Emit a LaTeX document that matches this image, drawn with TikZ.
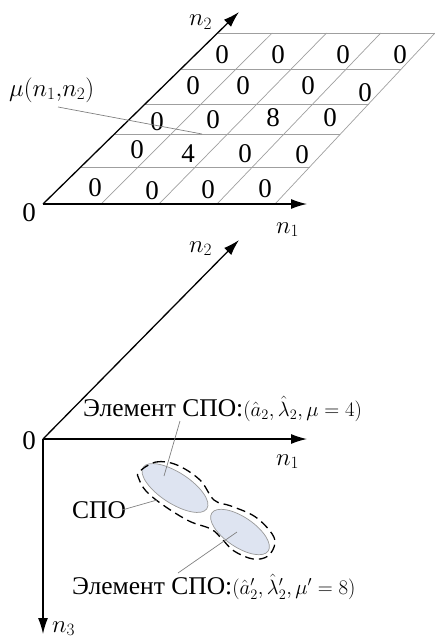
\documentclass[tikz,border=0pt]{standalone}
\usepackage{fontspec}
\setmainfont{Liberation Serif}
\usetikzlibrary{arrows.meta,calc}
\definecolor{blobfill}{HTML}{DEE4F1}
\newcommand{\mathpart}[1]{{\fontsize{21}{25}\selectfont$#1$}}
\begin{document}
\begin{tikzpicture}[x=1pt,y=-1pt,
  axis/.style={line width=1.3pt,-{Latex[length=16pt,width=10pt]}},
  gridline/.style={gray!75,line width=0.7pt},
  leader/.style={gray,line width=0.7pt},
  cellnum/.style={font=\fontsize{27}{32}\selectfont,inner sep=0pt},
  axlabel/.style={font=\fontsize{25}{29}\selectfont,inner sep=0pt,anchor=base west},
  txt/.style={font=\fontsize{25.5}{29}\selectfont,inner sep=0pt,anchor=base west},
  blob/.style={draw=gray!80,fill=blobfill,line width=0.7pt},
  hull/.style={dash pattern=on 9pt off 5pt,line width=1.3pt}]
\useasboundingbox (0,0) rectangle (435,642);

% ---------- top figure: grid ----------
\coordinate (B0) at (43,204);
\coordinate (B1) at (101,204);
\coordinate (B2) at (159,204);
\coordinate (B3) at (217,204);
\coordinate (B4) at (275,204);
\coordinate (T0) at (218,33);
\coordinate (T1) at (272.25,33);
\coordinate (T2) at (326.5,33);
\coordinate (T3) at (380.75,33);
\coordinate (T4) at (435,33);
\foreach \i in {1,2,3,4} \draw[gridline] (B\i) -- (T\i);
\foreach \t in {0.216,0.409,0.585,0.789,1}
  \draw[gridline] ($(B0)!\t!(T0)$) -- ($(B4)!\t!(T4)$);

\coordinate (A1tip) at (307,204);
\coordinate (A2tip) at (239,12);
\draw[axis] (B0) -- (A1tip);
\draw[axis] (B0) -- (A2tip);

\node[axlabel] (n2top) at (189,26) {$n_2$};
\node[axlabel] (n1top) at (276,233) {$n_1$};
\node[cellnum] (o1) at (29,213) {0};

% cell values
\node[cellnum] (c11) at (95,188) {0};
\node[cellnum] (c12) at (152,191) {0};
\node[cellnum] (c13) at (208,190) {0};
\node[cellnum] (c14) at (265,189) {0};
\node[cellnum] (c21) at (137,150) {0};
\node[cellnum] (c22) at (188,154) {4};
\node[cellnum] (c23) at (245,154) {0};
\node[cellnum] (c24) at (302,155) {0};
\node[cellnum] (c31) at (157,122) {0};
\node[cellnum] (c32) at (213,120) {0};
\node[cellnum] (c33) at (273,118) {8};
\node[cellnum] (c34) at (330,118) {0};
\node[cellnum] (c41) at (193,86) {0};
\node[cellnum] (c42) at (243,86) {0};
\node[cellnum] (c43) at (308,86) {0};
\node[cellnum] (c44) at (365,93) {0};
\node[cellnum] (c51) at (222,55) {0};
\node[cellnum] (c52) at (278,55) {0};
\node[cellnum] (c53) at (343,55) {0};
\node[cellnum] (c54) at (400,55) {0};

\node[axlabel] (mu) at (9,96) {$\mu(n_1{,}n_2)$};
\coordinate (muA) at (58,107);
\coordinate (muB) at (202,134);
\draw[leader] (muA) -- (muB);

% ---------- bottom figure ----------
\coordinate (O2) at (43,439);
\coordinate (X1) at (307,439);
\coordinate (X2) at (239,240);
\coordinate (X3) at (43,634);
\draw[axis] (O2) -- (X1);
\draw[axis] (O2) -- (X2);
\draw[axis] (O2) -- (X3);
\node[axlabel] (n2b) at (189,252) {$n_2$};
\node[axlabel] (n1b) at (276,465) {$n_1$};
\node[axlabel] (n3b) at (52,632) {$n_3$};
\node[cellnum] (o2) at (29,441) {0};

% elements
\draw[blob, rotate around={-33:(175,488)}] (175,488) ellipse (38 and 15.5);
\draw[blob, rotate around={-34:(240,532)}] (240,532) ellipse (34 and 15);

\draw[hull] plot[smooth cycle, tension=0.6] coordinates {
  (139,472) (156,462) (177,465) (200,480) (214,500) (231,506)
  (254,516) (270,531) (275,543) (268,556) (253,559) (234,551)
  (222,539) (211,529) (189,521) (163,505) (146,491) (139,479)};

\node[txt] (el1) at (83,416) {Элемент СПО:\mathpart{(\hat{a}_2,\hat{\lambda}_2,\mu=4)}};
\node[txt] (el2) at (72,594) {Элемент СПО:\mathpart{(\hat{a}'_2,\hat{\lambda}'_2,\mu'=8)}};
\node[txt] (spo) at (72,518) {СПО};

\coordinate (l1a) at (180,421);
\coordinate (l1b) at (164,476);
\draw[leader] (l1a) -- (l1b);
\coordinate (l2a) at (122,510);
\coordinate (l2b) at (157,500);
\draw[leader] (l2a) -- (l2b);
\coordinate (l3a) at (178,573);
\coordinate (l3b) at (237,532);
\draw[leader] (l3a) -- (l3b);
\end{tikzpicture}
\end{document}
